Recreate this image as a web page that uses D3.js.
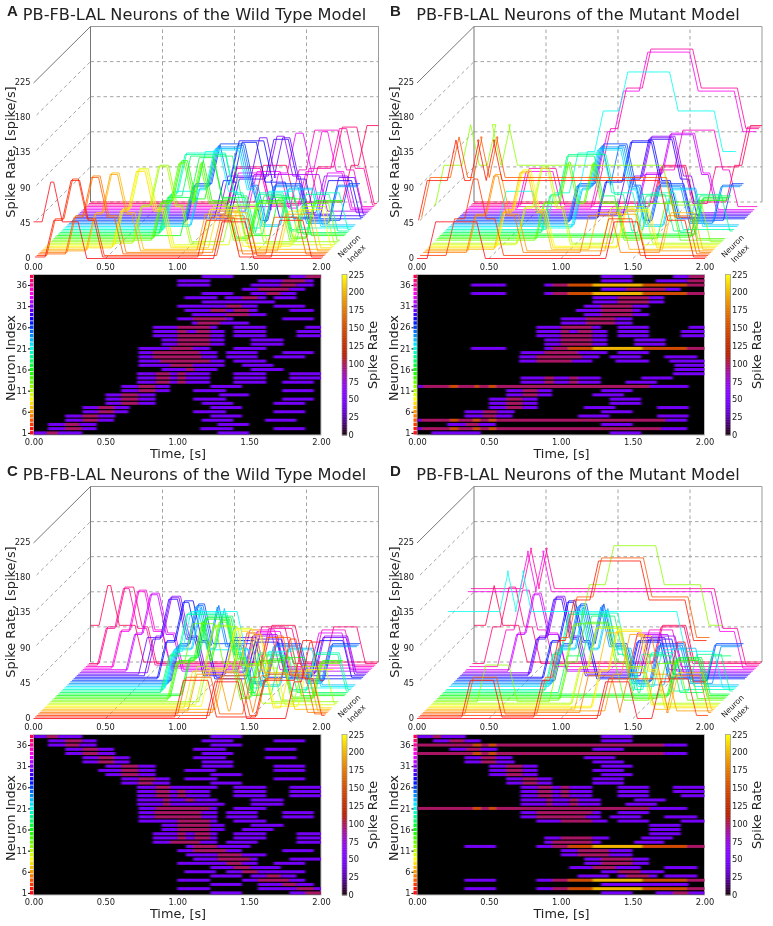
<!DOCTYPE html>
<html><head><meta charset="utf-8">
<script src="https://cdn.jsdelivr.net/npm/d3@7/dist/d3.min.js"></script>
<style>
html,body{margin:0;padding:0;background:#fff}
svg{display:block;filter:blur(0.3px)}
text{font-family:"DejaVu Sans",sans-serif;fill:#222}
</style></head><body>
<svg id="c" width="773" height="926"></svg>
<script>
// Each row lists change points: time (s), new rate (spike/s), time, rate, ... The row index is the neuron index - 1.
const rowsA = [
[0,47,.09,98,.17,47,.34,0,1.28,47,1.5,0],
[.1,47,.22,98,.34,47,.44,0,1.16,47,1.39,0,1.67,47,1.89,0],
[.1,47,.22,98,.32,47,.44,0,1.28,47,1.5,0],
[.22,47,.34,98,.45,47,.56,0,1.17,47,1.39,0,1.61,47,1.83,0],
[.22,47,.34,98,.45,47,.57,0,1.23,47,1.45,0],
[.34,47,.45,98,.56,47,.66,0,1.11,47,1.34,0,1.67,47,1.89,0],
[.34,47,.45,98,.56,47,.67,0,1.23,47,1.45,0],
[.5,47,.61,98,.73,47,.85,0,1.17,47,1.39,0,1.67,47,1.89,0],
[.5,47,.61,98,.73,47,.85,0,1.11,47,1.34,0,1.73,47,1.95,0],
[.5,47,.61,98,.73,47,.85,0,1.29,47,1.5,0],
[.61,47,.73,98,.85,47,.95,0,1.11,47,1.34,0,1.73,47,1.95,0],
[.61,47,.73,98,.85,47,.95,0,1.23,47,1.45,0],
[.72,47,.85,98,.95,47,1,98,1.06,47,1.23,0,1.39,47,1.62,0,1.73,47,1.95,0],
[.72,47,.85,98,.95,47,1,98,1.06,47,1.23,0,1.39,47,1.62,0,1.78,47],
[.72,47,.85,98,.95,47,1,98,1.06,47,1.23,0,1.39,47,1.62,0,1.78,47],
[.89,47,1.06,98,1.12,47,1.28,0,1.51,47,1.74,0],
[.73,47,.95,98,1.11,47,1.33,0,1.45,47,1.67,0],
[.73,47,.88,98,1.23,47,1.33,0,1.39,47,1.62,0],
[.73,47,.83,98,1.17,47,1.28,0,1.34,47,1.56,0,1.67,47,1.89,0],
[.73,47,.83,98,1.16,47,1.28,0,1.34,47,1.56,0,1.73,47,1.95,0],
[.73,47,.95,98,1.11,47,1.23,0,1.39,47,1.62,0],
[.89,47,1,98,1.23,47,1.33,0,1.51,47,1.74,0],
[.89,47,1,98,1.23,47,1.33,0,1.51,47,1.74,0],
[.83,47,1,98,1.23,47,1.33,0,1.39,47,1.62,0,1.83,47],
[.83,47,1,98,1.07,47,1.13,98,1.23,47,1.33,0,1.39,47,1.62,0,1.83,47],
[.83,47,1,98,1.23,47,1.28,0,1.39,47,1.62,0,1.89,47],
[1.1,47,1.14,98,1.3,47,1.5,0],
[1,47,1.11,98,1.34,47,1.39,0,1.73,47,1.95,0],
[1.1,47,1.34,98,1.5,47,1.62,0],
[1.05,47,1.23,98,1.34,47,1.39,98,1.5,47,1.56,0,1.78,47,1.95,0],
[1,47,1.34,98,1.45,47,1.56,0,1.67,47,1.89,0],
[1.17,47,1.68,0],
[1.05,47,1.28,0,1.33,47,1.45,98,1.56,47,1.62,0,1.67,47,1.83,0],
[1.17,47,1.39,0,1.51,47,1.62,98,1.72,47,1.83,0],
[1.45,47,1.56,98,1.78,47,1.89,0],
[1,47,1.23,0,1.51,47,1.72,98,1.83,47,1.95,0],
[1,47,1.23,0,1.56,47,1.73,98,1.89,47,1.95,0],
[1.17,47,1.39,0,1.78,47,1.89,98]
];
const rowsB = [
[.1,47,.445,0,1.34,47,1.56,0],
[0,47,.03,98,.23,150,.29,98,.39,150,.44,98,.5,150,.55,98,1.7,47,1.88,0],
[.21,47,.34,98,.43,47,.55,0,1.28,47,1.5,0],
[0,47,.03,98,.23,150,.29,98,.39,150,.44,98,.5,150,.55,98,1.73,47,1.88,0],
[.33,47,.46,98,.55,47,.665,0,1.12,47,1.34,0,1.67,47,1.89,0],
[.33,47,.46,98,.56,47,.68,0,1.28,47,1.5,0],
[.5,47,.62,98,.735,47,.84,0,1.16,47,1.38,0,1.67,47,1.89,0],
[.5,47,.62,98,.735,47,.84,0,1.34,47,1.56,0],
[.5,47,.62,98,.735,47,.84,0,1.34,47,1.56,0],
[.62,47,.735,98,.84,47,.94,0,1.22,47,1.44,0],
[.62,47,.735,98,.84,47,.94,0,1.28,47,1.5,0],
[0,47,.04,98,.225,150,.285,98,.4,150,.435,98,.5,150,.55,98,1.62,47,1.89,0],
[.72,47,.885,98,.955,47,1.06,98,1.12,47,1.28,0,1.45,47,1.67,0],
[.72,47,.885,98,.955,47,1.06,98,1.12,47,1.28,0,1.56,47,1.78,0],
[1.78,47],
[1.79,47],
[1.79,47],
[.71,47,.83,98,1.08,47,1.22,0,1.38,47,1.615,0,1.755,47],
[.71,47,.83,98,1.15,47,1.27,0,1.34,47,1.56,0,1.72,47,1.95,0],
[.72,47,.885,98,1.12,47,1.325,0,1.395,47,1.615,0],
[.375,47,.62,0,.885,47,.94,98,1.05,150,1.22,200,1.57,150,1.88,98],
[.885,47,1,98,1.22,47,1.325,0,1.51,47,1.73,0],
[.885,47,1,98,1.22,47,1.325,0,1.51,47,1.73,0],
[.83,47,1,98,1.22,47,1.325,0,1.395,47,1.615,0,1.835,47],
[.83,47,1,98,1.06,47,1.117,98,1.22,47,1.325,0,1.395,47,1.615,0,1.835,47],
[.83,47,1,98,1.22,47,1.28,0,1.395,47,1.615,0,1.89,47],
[1,47,1.175,98,1.38,47,1.5,0],
[1,47,1.175,98,1.38,47,1.5,0],
[1.16,47,1.28,98,1.5,47,1.615,0],
[1.105,47,1.28,98,1.5,47,1.557,0],
[1.16,47,1.28,98,1.5,47,1.615,0],
[1.22,47,1.395,98,1.615,47,1.72,0],
[1.22,47,1.395,98,1.615,47,1.72,0],
[.375,47,.62,0,.885,47,.94,98,1.05,150,1.22,200,1.57,150,1.88,98],
[1.28,47,1.453,98,1.73,47,1.835,0],
[.375,47,.62,0,.885,47,.94,98,1.05,150,1.22,200,1.57,150,1.88,98],
[1.28,47,1.5,0,1.66,47,1.88,98],
[1.28,47,1.5,0,1.78,47,1.89,98]
];
const rowsC = [
[1.23,47,1.45,0,1.78,47,1.89,98],
[1,47,1.23,0,1.56,47,1.83,98,1.95,47],
[1.23,47,1.45,0,1.56,47,1.73,98,1.83,47,1.95,0],
[1,47,1.23,0,1.45,47,1.56,98,1.78,47,1.89,0],
[1.23,47,1.45,0,1.51,47,1.62,98,1.72,47,1.83,0],
[1.05,47,1.27,0,1.34,47,1.45,98,1.56,47,1.89,0],
[1.23,47,1.39,98,1.51,47,1.72,0],
[1,47,1.34,98,1.45,47,1.56,0,1.67,47,1.89,0],
[1.11,47,1.28,98,1.51,47,1.56,0,1.78,47],
[1.06,47,1.28,98,1.45,47,1.62,0],
[1,47,1.11,98,1.34,47,1.45,0,1.73,47,1.95,0],
[1.06,47,1.11,98,1.28,47,1.51,0],
[.83,47,.95,98,1.16,47,1.28,0,1.34,47,1.56,0,1.83,47],
[.83,47,1,98,1.06,47,1.12,98,1.23,47,1.28,0,1.39,47,1.62,0,1.83,47],
[.83,47,1,98,1.06,47,1.12,98,1.23,47,1.28,0,1.39,47,1.62,0,1.83,47],
[.89,47,1,98,1.23,47,1.33,0,1.45,47,1.67,0],
[.89,47,1,98,1.23,47,1.33,0,1.51,47,1.74,0],
[.73,47,1,98,1.23,47,1.28,0,1.39,47,1.62,0],
[.73,47,.84,98,1.17,47,1.28,0,1.34,47,1.56,0,1.73,47,1.95,0],
[.73,47,.84,98,1.17,47,1.28,0,1.34,47,1.56,0,1.73,47,1.95,0],
[.73,47,.85,98,1.23,47,1.28,0,1.39,47,1.62,0],
[.72,47,.9,98,.95,47,1.33,0,1.51,47,1.74,0],
[.72,47,.9,98,.95,47,1.06,98,1.12,47,1.28,0,1.51,47,1.74,0],
[.72,47,.85,98,.95,47,1,98,1.06,47,1.23,0,1.39,47,1.62,0,1.78,47],
[.72,47,.85,98,.95,47,1,98,1.06,47,1.23,0,1.39,47,1.62,0,1.78,47],
[.72,47,.85,98,.95,47,1.28,0,1.39,47,1.62,0,1.78,47],
[.61,47,.73,98,.83,47,.95,0,1.23,47,1.45,0],
[.61,47,.73,98,.85,47,.95,0,1.05,47,1.28,0,1.67,47,1.89,0],
[.5,47,.61,98,.73,47,.85,0,1.23,47,1.45,0],
[.45,47,.61,98,.73,47,.85,0,1.05,47,1.27,0,1.67,47,1.89,0],
[.5,47,.61,98,.73,47,.85,0,1.17,47,1.39,0,1.67,47,1.89,0],
[.34,47,.45,98,.56,47,.67,0,1.17,47,1.39,0],
[.34,47,.45,98,.56,47,.67,0,1.11,47,1.34,0,1.61,47,1.83,0],
[.22,47,.34,98,.45,47,.57,0,1.17,47,1.39,0],
[.22,47,.34,98,.45,47,.56,0,1.11,47,1.34,0,1.61,47,1.83,0],
[.1,47,.22,98,.32,47,.44,0,1.23,47,1.45,0],
[.1,47,.22,98,.34,47,.44,0,1.17,47,1.39,0,1.67,47,1.89,0],
[0,47,.09,98,.17,47,.34,0,1.23,47,1.45,0]
];
const rowsD = [
[1.28,47,1.5,0,1.66,47,1.78,98,1.89,47],
[.33,47,.55,0,.83,47,.94,98,1.05,150,1.22,200,1.57,150,1.88,98],
[1.28,47,1.89,0],
[.33,47,.55,0,.83,47,.94,98,1.05,150,1.22,200,1.57,150,1.88,98],
[1.117,47,1.337,0,1.395,47,1.453,98,1.615,47,1.673,0,1.72,47,1.95,0],
[1.28,47,1.395,98,1.557,47,1.72,0],
[1.06,47,1.22,98,1.383,47,1.557,0,1.72,47,1.95,0],
[1.163,47,1.28,98,1.5,47,1.615,0],
[1.163,47,1.28,98,1.5,47,1.615,0],
[1,47,1.117,98,1.337,47,1.5,0],
[1,47,1.117,98,1.337,47,1.5,0],
[.33,47,.55,0,.83,47,.94,98,1.05,150,1.22,200,1.57,150,1.88,98],
[.885,47,.94,98,1.22,47,1.28,0,1.51,47,1.72,0],
[.885,47,1,98,1.22,47,1.337,0,1.56,47,1.78,0],
[1.615,47,1.835,0],
[1.615,47,1.835,0],
[1.615,47,1.835,0],
[.83,47,1,98,1.22,47,1.325,0,1.395,47,1.615,0,1.835,47],
[.72,47,.83,98,1.175,47,1.28,0,1.34,47,1.56,0,1.72,47,1.95,0],
[.72,47,.83,98,1.22,47,1.28,0,1.395,47,1.615,0],
[0,98,.39,150,.445,98,.5,150,.55,98,1.62,47,1.88,0],
[.72,47,.9,98,.94,47,1.06,98,1.12,47,1.28,0,1.45,47,1.67,0],
[.72,47,.9,98,.94,47,1.06,98,1.12,47,1.28,0,1.51,47,1.73,0],
[.72,47,.84,98,.94,47,1,98,1.06,47,1.22,0,1.395,47,1.615,0,1.835,47],
[.72,47,.84,98,.94,47,1,98,1.06,47,1.22,0,1.395,47,1.615,0,1.78,47],
[.72,47,.84,98,.94,47,1,98,1.06,47,1.22,0,1.395,47,1.615,0,1.78,47],
[.62,47,.735,98,.84,47,.94,0,1.22,47,1.44,0],
[.62,47,.735,98,.84,47,.94,0,1.22,47,1.44,0],
[.5,47,.62,98,.735,47,.84,0,1.28,47,1.5,0],
[.5,47,.62,98,.735,47,.84,0,1.22,47,1.44,0],
[.5,47,.62,98,.735,47,.84,0,1.28,47,1.5,0],
[.33,47,.445,98,.55,47,.68,0,1.22,47,1.44,0],
[.33,47,.445,98,.55,47,.665,0,1.16,47,1.38,0],
[0,98,.39,150,.445,98,.5,150,.55,98,1.72,47,1.88,0],
[.225,47,.34,98,.445,47,.56,0,1.22,47,1.44,0],
[0,98,.39,150,.445,98,.5,150,.55,98,1.72,47,1.88,0],
[.11,47,.225,98,.33,47,.445,0,1.28,47,1.5,0],
[0,47,.11,98,.17,47,.34,0,1.28,47,1.5,0]
];
const timeTicks = [0, .5, 1, 1.5, 2];
const zTicks = [0, 45, 90, 135, 180, 225];
const neuronTicks = [1, 6, 11, 16, 21, 26, 31, 36];
const barTicks = [0, 25, 50, 75, 100, 125, 150, 175, 200, 225];
const titleWT = "PB-FB-LAL Neurons of the Wild Type Model";
const titleMT = "PB-FB-LAL Neurons of the Mutant Model";
const panels = [
  {letter:"A", title:titleWT, rows:rowsA, dx:0, dy:0, lx:7},
  {letter:"B", title:titleMT, rows:rowsB, dx:383.5, dy:0, lx:390},
  {letter:"C", title:titleWT, rows:rowsC, dx:0, dy:460, lx:7},
  {letter:"D", title:titleMT, rows:rowsD, dx:383.5, dy:460, lx:390}
];

const neurons = d3.range(1, 39);
const hueStops = [[0,[1,.05,.1]],[.03,[1,.1,0]],[.215,[1,1,0]],[.4,[0,1,0]],[.55,[0,1,1]],[.72,[0,0,1]],[.88,[1,0,1]],[1,[1,0,.3]]];
const hueScale = d3.scaleLinear().domain(hueStops.map(d=>d[0]))
  .range(hueStops.map(d=>d3.rgb(d[1][0]*255,d[1][1]*255,d[1][2]*255)));
const neuronColor = n => hueScale((n-1)/37);
// matplotlib "gnuplot" colormap
const heatColor = d3.scaleSequential(x => d3.rgb(
  255*Math.sqrt(x), 255*x*x*x, 255*Math.max(0, Math.sin(2*Math.PI*x)))).domain([0,225]);

const svg = d3.select("#c");
const defs = svg.append("defs");
const blur = defs.append("filter").attr("id","soft")
  .attr("filterUnits","userSpaceOnUse").attr("x",0).attr("y",0).attr("width",773).attr("height",926);
blur.append("feGaussianBlur").attr("stdDeviation","1.2 0.5");

function segmentsOf(row){
  const out = [];
  for(let i=0;i<row.length;i+=2){
    const end = i+2<row.length ? row[i+2] : 2;
    if(row[i+1]>0) out.push({t0:row[i], t1:end, v:row[i+1]});
  }
  return out;
}
function traceOf(row){
  const half = .03, pts = [];
  let prev = row[0]===0 ? row[1] : 0;
  pts.push([0,prev]);
  for(let i=(row[0]===0?2:0);i<row.length;i+=2){
    pts.push([row[i]-half,prev]);
    pts.push([row[i]+half,row[i+1]]);
    prev = row[i+1];
  }
  pts.push([2,prev]);
  return pts;
}

function drawSurface(g, p){
  const x = d3.scaleLinear().domain([0,2]).range([33.5,321.5]);
  const z = d3.scaleLinear().domain([0,225]).range([258.5,83]);
  const nx = d3.scaleLinear().domain([1,38]).range([0,57]);
  const ny = d3.scaleLinear().domain([1,38]).range([0,-56.5]);
  const back = {x:nx(38), y:ny(38)};
  const grey = "#9a9a9a";
  const dash = (x1,y1,x2,y2) => g.append("line").attr("x1",x1).attr("y1",y1).attr("x2",x2).attr("y2",y2)
     .attr("stroke",grey).attr("stroke-width",.9).attr("stroke-dasharray","3.5,3");
  timeTicks.slice(1,4).forEach(t=>{
    dash(x(t)+back.x, z(0)+back.y, x(t)+back.x, z(225)+back.y);
    dash(x(t), z(0), x(t)+back.x, z(0)+back.y);
  });
  zTicks.forEach(v=>{
    dash(x(0)+back.x, z(v)+back.y, x(2)+back.x, z(v)+back.y);
    if(v>0 && v<225) dash(x(0)+3, z(v)-3, x(0)+back.x, z(v)+back.y);
  });
  const solid = (x1,y1,x2,y2,c) => g.append("line").attr("x1",x1).attr("y1",y1).attr("x2",x2).attr("y2",y2)
     .attr("stroke",c).attr("stroke-width",1);
  solid(x(0)+back.x, z(225)+back.y, x(2)+back.x, z(225)+back.y, grey);
  solid(x(2)+back.x, z(225)+back.y, x(2)+back.x, z(0)+back.y, grey);
  solid(x(0)+back.x, z(225)+back.y, x(0)+back.x, z(0)+back.y, "#777");
  solid(x(0), z(225), x(0)+back.x, z(225)+back.y, "#777");
  const line = d3.line();
  g.append("g").selectAll("path").data(neurons.slice().reverse()).join("path")
    .attr("d", n => line(traceOf(p.rows[n-1]).map(d=>[x(d[0])+nx(n), z(d[1])+ny(n)])))
    .attr("fill","none").attr("stroke",n=>neuronColor(n)).attr("stroke-width",1).attr("stroke-opacity",.8)
    .attr("stroke-linejoin","round");
  g.append("g").selectAll("text").data(timeTicks).join("text")
    .attr("x",d=>x(d)).attr("y",z(0)+11).attr("text-anchor","middle").attr("font-size",8.3)
    .text(d=>d.toFixed(2));
  g.append("g").selectAll("text").data(zTicks).join("text")
    .attr("x",x(0)-3).attr("y",d=>z(d)+2.2).attr("text-anchor","end").attr("font-size",8.3)
    .text(d=>d);
  g.append("text").attr("transform","translate(10.5,152) rotate(-90)").attr("dy","0.35em")
    .attr("text-anchor","middle").attr("font-size",12.9).text("Spike Rate, [spike/s]");
  g.append("text").attr("transform","translate(349,246) rotate(-45)").attr("dy","0.35em")
    .attr("text-anchor","middle").attr("font-size",7.8).text("Neuron");
  g.append("text").attr("transform","translate(356.5,253.5) rotate(-45)").attr("dy","0.35em")
    .attr("text-anchor","middle").attr("font-size",7.8).text("Index");
}

function drawHeat(g, p){
  const x = d3.scaleLinear().domain([0,2]).range([33.5,321]);
  const y = d3.scaleBand().domain(neurons).range([435,274.5]);
  const yPos = n => y(n)+y.bandwidth()/2;
  const plot = g.append("g");
  plot.append("rect").attr("x",x(0)).attr("y",274.5).attr("width",x(2)-x(0)).attr("height",160.5)
    .attr("fill","#000").attr("stroke","#bdbdbd").attr("stroke-width",1);
  const cells = neurons.flatMap(n => segmentsOf(p.rows[n-1]).map(s=>({...s,n})));
  const clipId = "clip"+p.letter;
  defs.append("clipPath").attr("id",clipId).append("rect")
    .attr("x",x(0)).attr("y",274.5).attr("width",x(2)-x(0)).attr("height",160.5);
  plot.append("g").attr("clip-path",`url(#${clipId})`)
    .append("g").attr("filter","url(#soft)")
    .selectAll("rect").data(cells).join("rect")
    .attr("x",d=>x(d.t0)).attr("width",d=>x(d.t1)-x(d.t0)+(d.t1===2?4:0))
    .attr("y",d=>yPos(d.n)-1.5).attr("height",3)
    .attr("fill",d=>heatColor(d.v));
  g.append("g").selectAll("rect").data(neurons).join("rect")
    .attr("x",30).attr("width",3.4).attr("y",d=>y(d)+.3).attr("height",y.bandwidth()-.8)
    .attr("fill",d=>neuronColor(d));
  const ax = d3.axisBottom(x).tickValues(timeTicks).tickFormat(d3.format(".2f")).tickSize(0).tickPadding(3);
  const ag = g.append("g").attr("transform","translate(0,436)").call(ax);
  const ay = d3.axisLeft(d3.scaleLinear().domain([1,38]).range([yPos(1),yPos(38)])).tickValues(neuronTicks).tickSize(2).tickPadding(1);
  const lg = g.append("g").attr("transform","translate(30,0)").call(ay);
  [ag,lg].forEach(s=>{s.select(".domain").remove(); s.selectAll("text").attr("font-size",8.3).attr("font-family",'"DejaVu Sans"').attr("fill","#222");});
  g.append("text").attr("x",178).attr("y",458).attr("text-anchor","middle").attr("font-size",12.8).text("Time, [s]");
  g.append("text").attr("transform","translate(10.5,358) rotate(-90)").attr("dy","0.35em")
    .attr("text-anchor","middle").attr("font-size",12.8).text("Neuron Index");
  const bar = d3.scaleLinear().domain([0,225]).range([435,274.5]);
  g.append("g").selectAll("rect").data(d3.range(0,225)).join("rect")
    .attr("x",342).attr("width",5).attr("y",d=>bar(d+1)).attr("height",d=>bar(d)-bar(d+1)+.4)
    .attr("fill",d=>heatColor(d+.5));
  g.append("rect").attr("x",342).attr("y",274.5).attr("width",5).attr("height",160.5)
    .attr("fill","none").attr("stroke","#999").attr("stroke-width",.7);
  const ab = d3.axisRight(bar).tickValues(barTicks).tickSize(0).tickPadding(1.5);
  const bg = g.append("g").attr("transform","translate(347,0)").call(ab);
  bg.select(".domain").remove();
  bg.selectAll("text").attr("font-size",8.3).attr("font-family",'"DejaVu Sans"').attr("fill","#222");
  g.append("text").attr("transform","translate(373,355) rotate(-90)").attr("dy","0.35em")
    .attr("text-anchor","middle").attr("font-size",12.8).text("Spike Rate");
}

panels.forEach(p=>{
  const g = svg.append("g").attr("transform",`translate(${p.dx},${p.dy})`);
  g.append("text").attr("x",194.5).attr("y",20).attr("text-anchor","middle").attr("font-size",16.2).text(p.title);
  drawSurface(g,p);
  drawHeat(g,p);
  svg.append("text").attr("x",p.lx).attr("y",p.dy+16).attr("font-size",15).attr("font-weight",700)
    .style("font-family",'"Liberation Sans",Arial,sans-serif').text(p.letter);
});
</script></body></html>
